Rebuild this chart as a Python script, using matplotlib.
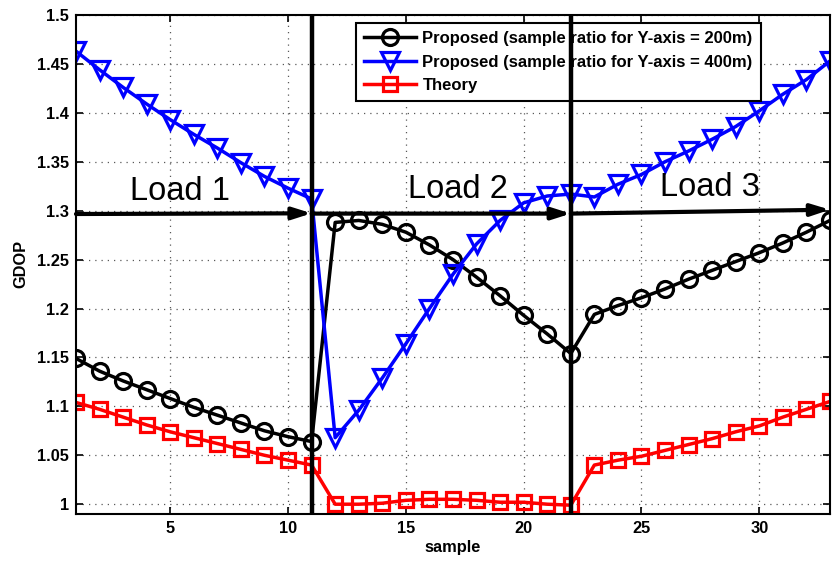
import numpy as np
import matplotlib
matplotlib.use("Agg")
import matplotlib.pyplot as plt

plt.rcParams["font.family"] = ["Liberation Sans", "DejaVu Sans"]
plt.rcParams["font.weight"] = "bold"

sample = np.arange(1, 34)

gdop_200m = [1.149, 1.136, 1.126, 1.117, 1.108, 1.099, 1.091, 1.083, 1.075, 1.069, 1.064,
             1.288, 1.290, 1.286, 1.278, 1.265, 1.250, 1.232, 1.213, 1.193, 1.174, 1.154,
             1.194, 1.203, 1.211, 1.220, 1.230, 1.239, 1.248, 1.257, 1.267, 1.278, 1.290]

gdop_400m = [1.463, 1.444, 1.426, 1.409, 1.393, 1.378, 1.364, 1.349, 1.335, 1.323, 1.312,
             1.068, 1.096, 1.129, 1.164, 1.200, 1.235, 1.266, 1.290, 1.308, 1.315, 1.317,
             1.314, 1.327, 1.337, 1.350, 1.361, 1.373, 1.386, 1.402, 1.419, 1.434, 1.453]

gdop_theory = [1.104, 1.097, 1.089, 1.081, 1.074, 1.068, 1.062, 1.056, 1.050, 1.045, 1.040,
               1.000, 1.000, 1.001, 1.004, 1.005, 1.005, 1.004, 1.002, 1.002, 1.000, 0.999,
               1.040, 1.045, 1.049, 1.055, 1.061, 1.067, 1.074, 1.080, 1.089, 1.097, 1.105]

labels = ["Proposed (sample ratio for Y-axis = 200m)",
          "Proposed (sample ratio for Y-axis = 400m)",
          "Theory"]

load_bounds = [11, 22]
load_names = ["Load 1", "Load 2", "Load 3"]
load_text_pos = [(3.3, 1.311), (15.1, 1.313), (25.8, 1.315)]
arrow_segments = [((1, 1.2966), (11, 1.2973)),
                  ((11, 1.297), (22, 1.297)),
                  ((22, 1.297), (33, 1.301))]

fig = plt.figure(figsize=(8.35, 5.61), dpi=100)
ax = fig.add_axes([0.091, 0.0838, 0.903, 0.8895])

ax.plot(sample, gdop_200m, "-o", color="black", lw=2.5, ms=11.5, mew=2.3,
        mfc="none", label=labels[0])
ax.plot(sample, gdop_400m, "-v", color="blue", lw=2.5, ms=13, mew=2.3,
        mfc="none", label=labels[1])
ax.plot(sample, gdop_theory, "-s", color="red", lw=2.5, ms=9.5, mew=2.3,
        mfc="none", label=labels[2])

for xb in load_bounds:
    ax.axvline(xb, color="black", lw=3.2, zorder=6)

# load-region arrows with narrow filled heads
for (start, end) in arrow_segments:
    ax.annotate("", xy=end, xytext=start,
                arrowprops=dict(arrowstyle="-|>,head_length=1.1,head_width=0.35",
                                color="black", lw=3.0, shrinkA=0, shrinkB=0),
                zorder=7)

for name, (tx, ty) in zip(load_names, load_text_pos):
    ax.text(tx, ty, name, fontsize=23.5, fontweight="normal",
            ha="left", va="baseline", zorder=8)

ax.set_xlim(1, 33)
ax.set_ylim(0.99, 1.5)
ax.set_xticks([5, 10, 15, 20, 25, 30])
ax.set_yticks(np.arange(1.0, 1.501, 0.05))
ax.set_yticklabels(["1", "1.05", "1.1", "1.15", "1.2", "1.25", "1.3",
                    "1.35", "1.4", "1.45", "1.5"])
ax.tick_params(direction="in", length=5, width=1.2, top=True, right=True,
               labelsize=11.8, pad=5)
for lab in ax.get_xticklabels() + ax.get_yticklabels():
    lab.set_fontweight("bold")
for sp in ax.spines.values():
    sp.set_linewidth(1.5)

ax.grid(True, color="0.35", linestyle=(0, (1, 4)), lw=0.9)
ax.set_xlabel("sample", fontsize=11.8, fontweight="bold", labelpad=3)
ax.set_ylabel("GDOP", fontsize=11.8, fontweight="bold", labelpad=6)

leg = ax.legend(loc="upper right", bbox_to_anchor=(0.9085, 0.984),
                fontsize=12, numpoints=1, handlelength=3.1,
                fancybox=False, framealpha=1, edgecolor="black",
                borderaxespad=0, labelspacing=0.5, borderpad=0.5,
                handletextpad=0.4)
leg.get_frame().set_linewidth(1.5)
for t in leg.get_texts():
    t.set_fontweight("bold")

fig.savefig("out.png", dpi=100)
